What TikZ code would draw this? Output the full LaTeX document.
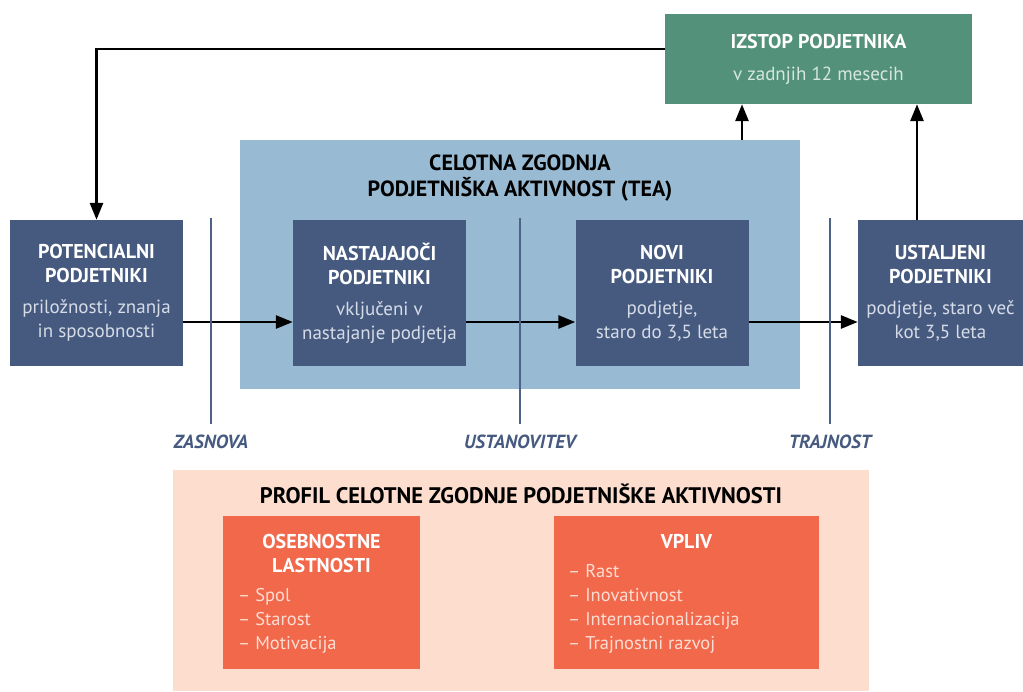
\documentclass[tikz,border=0pt]{standalone}
\usepackage{fontspec}
\setmainfont{PT Sans}
\usepackage{tikz}
\usetikzlibrary{arrows.meta,positioning,calc}
\definecolor{gemblue}{HTML}{465A80}
\definecolor{gemline}{HTML}{4D6288}
\definecolor{teablue}{HTML}{98BBD3}
\definecolor{gemgreen}{HTML}{53917A}
\definecolor{peach}{HTML}{FCDDCE}
\definecolor{gemorange}{HTML}{F1684B}
\definecolor{subtext}{HTML}{D6DCE7}
\definecolor{greensub}{HTML}{D5E8DF}
\definecolor{orangesub}{HTML}{FDDDD3}
\newcommand{\boxhead}[1]{{\fontsize{20}{25}\selectfont\bfseries #1}}

\begin{document}
\begin{tikzpicture}[x=1pt, y=-1pt, >={Triangle[length=17pt,width=13pt]},
	stage/.style={fill=gemblue, text=white, minimum width=173pt, minimum height=146pt, inner sep=0pt, align=center, font=\fontsize{19}{24}\selectfont},
	flow/.style={line width=2.8pt, ->},
	divider/.style={line width=2.5pt, gemline},
	phase/.style={text=gemblue, font=\fontsize{19}{22}\selectfont\bfseries\itshape},
	trait/.style={fill=gemorange, minimum height=153pt, inner sep=0pt},
	items/.style={text=orangesub, align=left, anchor=north west, inner sep=0pt, font=\fontsize{18.5}{24}\selectfont}]
	\useasboundingbox (0,0) rectangle (1023,691);
	
	\node[fill=teablue, minimum width=560pt, minimum height=249pt, inner sep=0pt] (tea) at (520,264.5) {};
	\node[align=center, font=\fontsize{22}{26}\selectfont\bfseries] (teatitle) at (520,178) {CELOTNA ZGODNJA\\PODJETNIŠKA AKTIVNOST (TEA)};
	
	\node[fill=gemgreen, text=white, minimum width=307pt, minimum height=90pt, align=center, font=\fontsize{19}{24}\selectfont] (izstop) at (818.5,59) {\boxhead{IZSTOP PODJETNIKA}\\[8pt]\textcolor{greensub}{v zadnjih 12 mesecih}};
	
	\node[stage] (potencial) at (96.5,293) {\boxhead{POTENCIALNI}\\\boxhead{PODJETNIKI}\\[7pt]\textcolor{subtext}{priložnosti, znanja}\\\textcolor{subtext}{in sposobnosti}};
	\node[stage] (nastajajoci) at (379.5,293) {\boxhead{NASTAJAJOČI}\\\boxhead{PODJETNIKI}\\[7pt]\textcolor{subtext}{vključeni v}\\\textcolor{subtext}{nastajanje podjetja}};
	\node[stage] (novi) at (662,293) {\boxhead{NOVI}\\\boxhead{PODJETNIKI}\\[7pt]\textcolor{subtext}{podjetje,}\\\textcolor{subtext}{staro do 3,5 leta}};
	\node[stage, minimum width=165pt] (ustaljeni) at (940.5,293) {\boxhead{USTALJENI}\\\boxhead{PODJETNIKI}\\[7pt]\textcolor{subtext}{podjetje, staro več}\\\textcolor{subtext}{kot 3,5 leta}};
	
	\draw[flow] ([yshift=10pt]izstop.west) -| (potencial.north);
	\draw[flow] ([yshift=-29pt]potencial.east) -- ([yshift=-29pt]nastajajoci.west);
	\draw[flow] ([yshift=-29pt]nastajajoci.east) -- ([yshift=-29pt]novi.west);
	\draw[flow] ([yshift=-29pt]novi.east) -- ([yshift=-29pt]ustaljeni.west);
	\coordinate (teaout) at (742,140);
	\coordinate (ustout) at (917,220);
	\draw[flow] (teaout) -- (teaout |- izstop.south);
	\draw[flow] (ustout) -- (ustout |- izstop.south);
	
	\draw[divider] (211,218) -- (211,424);
	\draw[divider] (520,218) -- (520,424);
	\draw[divider] (830,218) -- (830,424);
	\node[phase] (zasnova) at (211,442) {ZASNOVA};
	\node[phase] (ustanovitev) at (520,442) {USTANOVITEV};
	\node[phase] (trajnost) at (830,442) {TRAJNOST};
	
	\node[fill=peach, minimum width=696pt, minimum height=221pt, inner sep=0pt] (profil) at (521,580.5) {};
	\node[font=\fontsize{22.5}{26}\selectfont\bfseries] (profiltitle) at (521,494) {PROFIL CELOTNE ZGODNJE PODJETNIŠKE AKTIVNOSTI};
	
	\node[trait, minimum width=197pt] (osebnost) at (321.5,592.5) {};
	\node[trait, minimum width=265pt] (vpliv) at (686.5,592.5) {};
	\node[text=white, align=center, font=\fontsize{20}{24}\selectfont\bfseries] (osebtitle) at (321.5,553) {OSEBNOSTNE\\LASTNOSTI};
	\node[text=white, font=\fontsize{20}{24}\selectfont\bfseries] (vplivtitle) at (686.5,541) {VPLIV};
	\node[items] (osebitems) at (238,588) {– Spol\\– Starost\\– Motivacija};
	\node[items] (vplivitems) at (568,564) {– Rast\\– Inovativnost\\– Internacionalizacija\\– Trajnostni razvoj};
\end{tikzpicture}
\end{document}
